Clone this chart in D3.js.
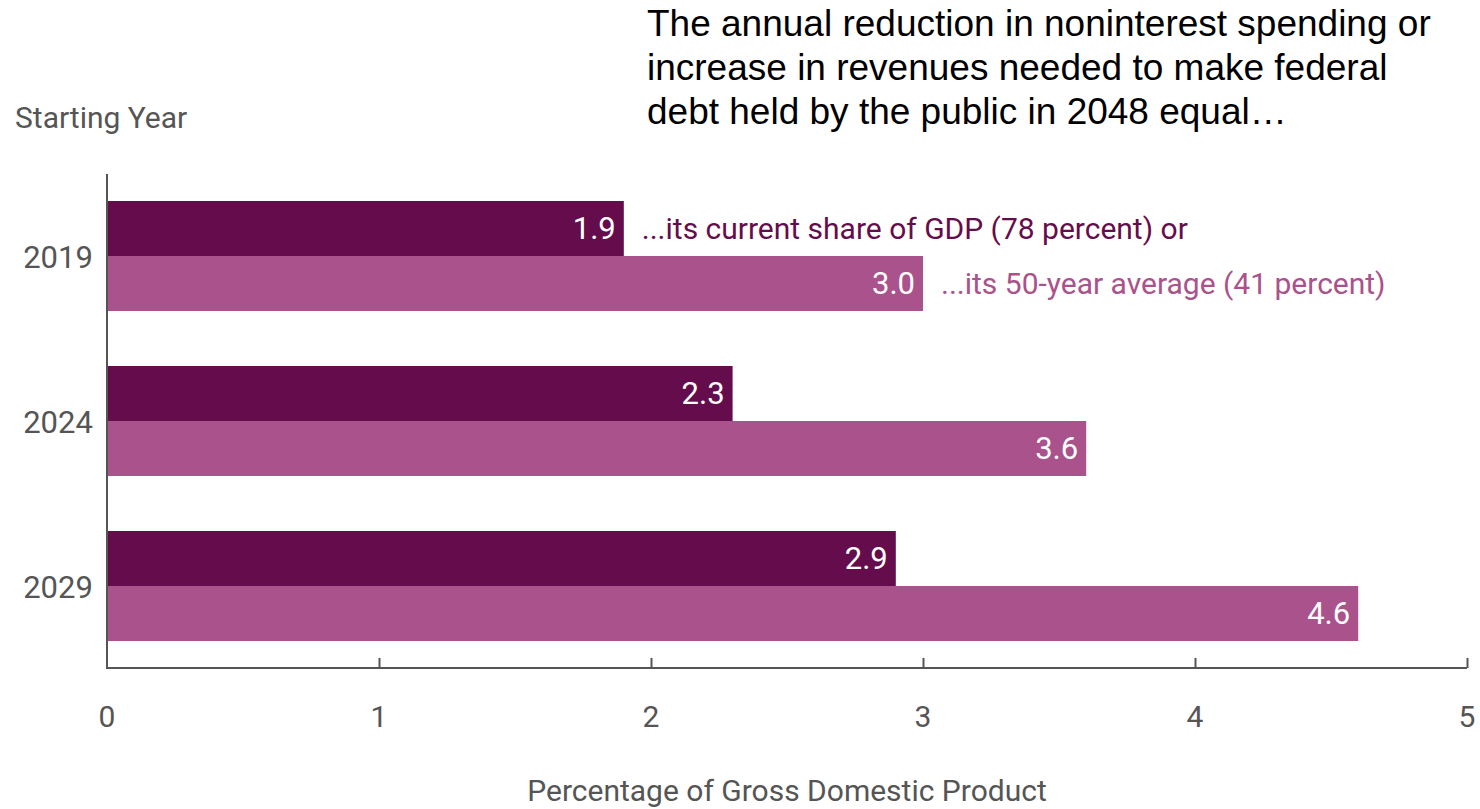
<!DOCTYPE html>
<html>
<head>
<meta charset="utf-8">
<script src="https://cdn.jsdelivr.net/npm/d3@7"></script>
<style>
  body { margin: 0; background: #fff; }
  svg text { font-family: "Roboto", sans-serif; }
</style>
</head>
<body>
<div id="container"></div>
<script>
const years = ["2019", "2024", "2029"];
const currentShare = [1.9, 2.3, 2.9];
const fiftyYearAvg = [3.0, 3.6, 4.6];
const seriesNames = ["...its current share of GDP (78 percent) or", "...its 50-year average (41 percent)"];
const xTicks = [0, 1, 2, 3, 4, 5];
const titleLines = [
  "The annual reduction in noninterest spending or",
  "increase in revenues needed to make federal",
  "debt held by the public in 2048 equal\u2026"
];

const w = 1480, h = 809;
const dark = "#650d4c", light = "#a9528c", axisCol = "#555";

const svg = d3.select("#container").append("svg")
  .attr("width", w).attr("height", h);

//scales
const x = d3.scaleLinear().domain([0, 5]).range([107, 1467]);
const y = d3.scaleBand().domain(years).range([174, 668]).paddingInner(0.3333).paddingOuter(0.1636);
const sub = d3.scaleBand().domain([0, 1]).range([0, y.bandwidth()]);

//title
svg.append("text")
  .attr("x", 647).attr("y", 36)
  .style("font-family", "'Liberation Sans', Arial, sans-serif")
  .style("font-size", "37px").attr("fill", "#000")
  .selectAll("tspan").data(titleLines).enter().append("tspan")
  .attr("x", 647).attr("dy", (d, i) => i ? 44 : 0)
  .text(d => d);

svg.append("text").attr("x", 15).attr("y", 128)
  .style("font-size", "30px").attr("fill", axisCol).text("Starting Year");

//bars
const rows = years.map((yr, i) => ({ yr, vals: [currentShare[i], fiftyYearAvg[i]] }));
const g = svg.selectAll("g.row").data(rows).enter().append("g")
  .attr("class", "row")
  .attr("transform", d => `translate(0,${y(d.yr)})`);

g.selectAll("rect").data(d => d.vals).enter().append("rect")
  .attr("x", x(0))
  .attr("y", (d, i) => sub(i))
  .attr("width", d => x(d) - x(0))
  .attr("height", sub.bandwidth())
  .attr("fill", (d, i) => i ? light : dark);

g.selectAll("text.val").data(d => d.vals).enter().append("text")
  .attr("class", "val")
  .attr("x", d => x(d) - 8)
  .attr("y", (d, i) => sub(i) + sub.bandwidth() / 2 + 11)
  .attr("text-anchor", "end")
  .style("font-size", "31px").attr("fill", "#fff")
  .text(d => d.toFixed(1));

//series labels next to first group
svg.selectAll("text.series").data(seriesNames).enter().append("text")
  .attr("class", "series")
  .attr("x", (d, i) => x(rows[0].vals[i]) + 18)
  .attr("y", (d, i) => y(years[0]) + sub(i) + sub.bandwidth() / 2 + 11)
  .style("font-size", "30px")
  .attr("fill", (d, i) => i ? light : dark)
  .text(d => d);

//year labels
svg.selectAll("text.yr").data(years).enter().append("text")
  .attr("class", "yr")
  .attr("x", 58).attr("y", d => y(d) + y.bandwidth() / 2 + 12)
  .attr("text-anchor", "middle")
  .style("font-size", "31px").attr("fill", axisCol)
  .text(d => d);

//axes
const xAxis = d3.axisTop(x).tickValues(xTicks.slice(1)).tickSize(10).tickFormat("");
const ax = svg.append("g").attr("transform", "translate(0,668)").call(xAxis);
ax.select(".domain").remove();
ax.selectAll("line").attr("stroke", axisCol).attr("stroke-width", 2);
svg.append("line").attr("x1", x(0)).attr("x2", x(5)).attr("y1", 668).attr("y2", 668)
  .attr("stroke", axisCol).attr("stroke-width", 2);
svg.append("line").attr("x1", x(0)).attr("x2", x(0)).attr("y1", 174).attr("y2", 669)
  .attr("stroke", axisCol).attr("stroke-width", 2);

svg.selectAll("text.tick").data(xTicks).enter().append("text")
  .attr("class", "tick")
  .attr("x", d => x(d)).attr("y", 727)
  .attr("text-anchor", "middle")
  .style("font-size", "30px").attr("fill", axisCol)
  .text(d => d);

svg.append("text").attr("x", 787).attr("y", 801).attr("text-anchor", "middle")
  .style("font-size", "30px").attr("fill", axisCol)
  .text("Percentage of Gross Domestic Product");
</script>
</body>
</html>
